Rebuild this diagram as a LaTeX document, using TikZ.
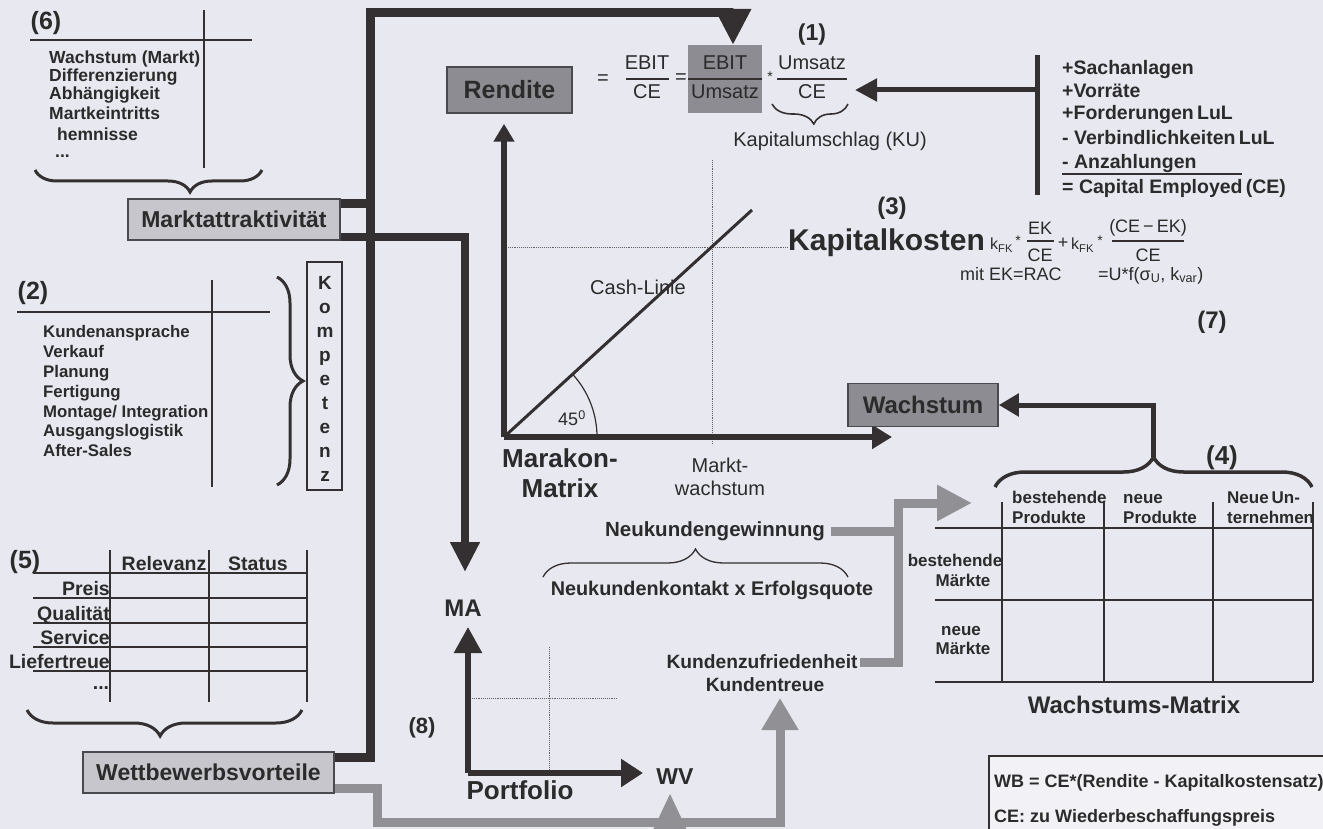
\documentclass[tikz,border=0pt]{standalone}
\usepackage{fontspec}
\setmainfont{Liberation Sans}
\usetikzlibrary{arrows.meta,decorations.pathreplacing,calc}
\definecolor{bgc}{HTML}{E8E9F0}
\definecolor{txtc}{HTML}{2B2B2B}
\definecolor{darkl}{HTML}{342F30}
\definecolor{greyl}{HTML}{909095}
\definecolor{boxd}{HTML}{8C8C92}
\definecolor{boxl}{HTML}{C6C6CC}
\definecolor{boxb}{HTML}{4A4A4E}
\definecolor{wbfill}{HTML}{F2F2F6}
\newcommand{\myfs}[1]{\fontsize{#1}{#1}\selectfont}
\begin{document}
\begin{tikzpicture}[x=1pt,y=-1pt,
  tb/.style={inner sep=0pt,text=txtc,font=\bfseries\myfs{#1}},
  tn/.style={inner sep=0pt,text=txtc,font=\myfs{#1}},
  thickp/.style={draw=darkl,line width=#1,line join=miter},
  conn/.style={draw=darkl,line width=5pt},
  axisl/.style={draw=darkl,line width=5.5pt},
  greyp/.style={draw=greyl,line width=9pt,line join=miter},
  thinl/.style={draw=darkl,line width=1.3pt},
  dotl/.style={draw=darkl!75,line width=0.9pt,densely dotted},
  lightbox/.style={draw=boxb,line width=1.5pt,fill=boxl,inner sep=0pt,text=txtc,font=\bfseries\myfs{23}},
  darkbox/.style={draw=boxb,line width=1.5pt,fill=boxd,inner sep=0pt,text=txtc,font=\bfseries\myfs{25}},
  brc/.style={draw=darkl,line width=#1,decorate},
]
\useasboundingbox (0,0) rectangle (1323,829);
\clip (0,0) rectangle (1323,829);
\fill[bgc] (0,0) rectangle (1323,829);

% ---------- (6) ----------
\node[tb=25] (h6) at (46,23) {(6)};
\draw[thinl] (30,40) -- (252,40);
\draw[thinl] (204,10) -- (204,168);
\node[tb=17.5,anchor=base west] (a1) at (49,64) {Wachstum (Markt)};
\node[tb=17.5,anchor=base west] (a2) at (49,82) {Differenzierung};
\node[tb=17.5,anchor=base west] (a3) at (49,100) {Abhängigkeit};
\node[tb=17.5,anchor=base west] (a4) at (49,120) {Martkeintritts};
\node[tb=17.5,anchor=base west] (a5) at (57,141) {hemnisse};
\node[tb=17.5,anchor=base west] (a6) at (55,158) {...};
\draw[brc=3pt,decoration={brace,amplitude=22pt,aspect=0.317}] (262,170) -- (35,170);
\node[lightbox,minimum width=212pt,minimum height=41pt] (mkt) at (234,219.5) {Marktattraktivität};

% ---------- (2) ----------
\node[tb=25] (h2) at (33,293) {(2)};
\draw[thinl] (17,312) -- (270,312);
\draw[thinl] (212,280) -- (212,487);
\node[tb=16.8,anchor=base west] (b1) at (43,337) {Kundenansprache};
\node[tb=16.8,anchor=base west] (b2) at (43,357) {Verkauf};
\node[tb=16.8,anchor=base west] (b3) at (43,377) {Planung};
\node[tb=16.8,anchor=base west] (b4) at (43,397) {Fertigung};
\node[tb=16.8,anchor=base west] (b5) at (43,417) {Montage/ Integration};
\node[tb=16.8,anchor=base west] (b6) at (43,436) {Ausgangslogistik};
\node[tb=16.8,anchor=base west] (b7) at (43,456) {After-Sales};
\draw[brc=3pt,decoration={brace,amplitude=26pt,aspect=0.5}] (277,277) -- (277,485);
\node[draw=darkl,line width=1.2pt,minimum width=35pt,minimum height=228pt,inner sep=0pt] (kbox) at (324.5,376) {};
\node[inner sep=0pt,text=txtc,font=\bfseries\fontsize{19}{24}\selectfont,align=center] (ktext) at (325,379) {K\\o\\m\\p\\e\\t\\e\\n\\z};

% ---------- (5) ----------
\node[tb=25] (h5) at (25,562) {(5)};
\foreach \yy in {573,598,623,647,671} \draw[thinl] (33,\yy) -- (307,\yy);
\foreach \xx in {110,209,307} \draw[thinl] (\xx,550) -- (\xx,702);
\node[tb=19.5,anchor=base] (rel) at (164,570) {Relevanz};
\node[tb=19.5,anchor=base] (sta) at (258,570) {Status};
\node[tb=19.5,anchor=base east] (r1) at (110,595) {Preis};
\node[tb=19.5,anchor=base east] (r2) at (110,620) {Qualität};
\node[tb=19.5,anchor=base east] (r3) at (110,644) {Service};
\node[tb=19.5,anchor=base east] (r4) at (110,668) {Liefertreue};
\node[tb=19.5,anchor=base] (r5) at (101,689) {...};
\draw[brc=3pt,decoration={brace,amplitude=26pt,aspect=0.516}] (302,710) -- (27,710);
\node[lightbox,minimum width=251pt,minimum height=41pt] (wbv) at (208.5,772.5) {Wettbewerbsvorteile};

% ---------- main dark connectors ----------
\coordinate (topTip) at (733,45);
\coordinate (maTip) at (465,572);
\draw[thickp=9pt,-{Triangle[length=36pt,width=34pt]}] (wbv.east |- 0,757) -- (370,757) -- (370,13) -- (733,13) -- (topTip);
\draw[thickp=9pt] (mkt.east |- 0,204) -- (370,204);
\draw[thickp=8pt,-{Triangle[length=30pt,width=28pt]}] (mkt.east |- 0,237) -- (465,237) -- (maTip);

% ---------- Rendite formula (1) ----------
\node[darkbox,minimum width=125pt,minimum height=46pt] (ren) at (509.5,90) {Rendite};
\node[tn=20] (eq1) at (603,80) {=};
\node[tn=20] (f1n) at (647,63) {EBIT};
\draw[thinl] (626,79) -- (669,79);
\node[tn=20] (f1d) at (647,92) {CE};
\node[tn=20] (eq2) at (681,79) {=};
\node[fill=boxd,minimum width=74pt,minimum height=68pt,inner sep=0pt] (ebu) at (725,79) {};
\node[tn=20] (f2n) at (725,63) {EBIT};
\draw[thinl] (688,79) -- (762,79);
\node[tn=20] (f2d) at (725,92) {Umsatz};
\node[tn=14] (st1) at (770,77) {*};
\node[tn=20] (f3n) at (812,63) {Umsatz};
\draw[thinl] (777,79) -- (847,79);
\node[tn=20] (f3d) at (812,92) {CE};
\node[tb=23] (h1) at (812,35) {(1)};
\draw[brc=1.6pt,decoration={brace,amplitude=20pt,aspect=0.45}] (848,104) -- (772,104);
\node[tn=20] (ku) at (830,141) {Kapitalumschlag (KU)};

% ---------- CE list ----------
\coordinate (ceTop) at (1037,55);
\coordinate (ceBot) at (1037,195);
\coordinate (ceTip) at (855,90);
\draw[conn] (ceTop) -- (ceBot);
\draw[conn,-{Triangle[length=22pt,width=22pt]}] (ceTop |- 0,90) -- (ceTip);
\node[tb=19.5,anchor=base west] (c1) at (1062,75) {+Sachanlagen};
\node[tb=19.5,anchor=base west] (c2) at (1062,98) {+Vorräte};
\node[tb=19.5,anchor=base west] (c3) at (1062,120) {+Forderungen\,LuL};
\node[tb=19.5,anchor=base west] (c4) at (1062,145) {- Verbindlichkeiten\,LuL};
\node[tb=19.5,anchor=base west] (c5) at (1062,169) {- Anzahlungen};
\draw[draw=darkl,line width=2pt] (1062,174) -- (1242,174);
\node[tb=19.5,anchor=base west] (c6) at (1062,194) {= Capital Employed\,(CE)};

% ---------- Kapitalkosten (3) ----------
\node[tb=24] (h3) at (892,208) {(3)};
\node[tb=30,anchor=base west] (kk) at (788,251) {Kapitalkosten};
\node[tn=16,anchor=base west] (kf1) at (990,250) {k\textsubscript{FK}};
\node[tn=14] (st2) at (1018,241) {*};
\node[tn=18] (e1n) at (1040,228) {EK};
\draw[thinl] (1027,241) -- (1054,241);
\node[tn=18] (e1d) at (1040,255) {CE};
\node[tn=18] (pl) at (1063,243) {+};
\node[tn=16,anchor=base west] (kf2) at (1071,250) {k\textsubscript{FK}};
\node[tn=14] (st3) at (1100,241) {*};
\node[tn=18] (e2n) at (1148,228) {(CE\,−\,EK)};
\draw[thinl] (1112,241) -- (1184,241);
\node[tn=18] (e2d) at (1148,255) {CE};
\node[tn=18,anchor=base west] (mit) at (960,280) {mit EK=RAC};
\node[tn=18,anchor=base west] (uf) at (1098,280) {=U*f(σ\textsubscript{U}, k\textsubscript{var})};
\node[tb=24] (h7) at (1212,322) {(7)};

% ---------- Marakon matrix ----------
\coordinate (mo) at (504,437);
\coordinate (mxEnd) at (892,437);
\draw[dotl] (712,160) -- (712,445);
\draw[dotl] (504,247) -- (788,247);
\draw[axisl,shorten >=10pt,-{Triangle[length=18pt,width=20pt]}] (mo) -- (mo |- ren.south);
\draw[axisl,-{Triangle[length=20pt,width=23pt]}] (mo) -- (mxEnd);
\draw[draw=darkl,line width=3pt] (mo) -- (752,210);
\draw[draw=darkl,line width=1.2pt] (597,437) arc[start angle=0,end angle=-42.5,radius=93];
\node[tn=20] (cash) at (638,287) {Cash-Linie};
\node[tn=18] (ang) at (572,418) {45\textsuperscript{0}};
\node[tb=26,anchor=west] (mar1) at (502,458) {Marakon-};
\node[tb=26] (mar2) at (560,488) {Matrix};
\node[tn=20] (mw1) at (720,465) {Markt-};
\node[tn=20] (mw2) at (720,488) {wachstum};

% ---------- Wachstum (7) ----------
\node[darkbox,minimum width=150pt,minimum height=43pt,font=\bfseries\myfs{24}] (wach) at (923,405) {Wachstum};
\coordinate (b4tip) at (1153,457);
\draw[conn,-{Triangle[length=20pt,width=22pt]}] (b4tip) |- (wach.east);

% ---------- Wachstums-Matrix (4) ----------
\node[tb=26] (h4) at (1222,458) {(4)};
\draw[brc=3.5pt,decoration={brace,amplitude=30pt,aspect=0.5}] (995,487) -- (1312,487);
\foreach \yy in {528,600,682} \draw[thinl] (935,\yy) -- (1313,\yy);
\foreach \xx in {1002,1104,1213,1313} \draw[thinl] (\xx,502) -- (\xx,682);
\node[tb=17,anchor=base west] (m1a) at (1012,503) {bestehende};
\node[tb=17,anchor=base west] (m1b) at (1012,523) {Produkte};
\node[tb=17,anchor=base west] (m2a) at (1123,503) {neue};
\node[tb=17,anchor=base west] (m2b) at (1123,523) {Produkte};
\node[tb=17,anchor=base west] (m3a) at (1227,503) {Neue\,Un-};
\node[tb=17,anchor=base west] (m3b) at (1227,523) {ternehmen};
\node[tb=17,anchor=base] (z1a) at (955,566) {bestehende};
\node[tb=17,anchor=base] (z1b) at (963,586) {Märkte};
\node[tb=17,anchor=base] (z2a) at (961,635) {neue};
\node[tb=17,anchor=base] (z2b) at (963,654) {Märkte};
\node[tb=24] (wm) at (1134,705) {Wachstums-Matrix};

% ---------- WB box ----------
\node[draw=darkl,line width=1.5pt,fill=wbfill,anchor=north west,minimum width=350pt,minimum height=90pt,inner sep=0pt] (wb) at (988,755) {};
\node[tb=18,anchor=base west] (wb1) at (994,787) {WB = CE*(Rendite - Kapitalkostensatz)};
\node[tb=18,anchor=base west] (wb2) at (994,822) {CE: zu Wiederbeschaffungspreis};

% ---------- Neukunden ----------
\node[tb=20.5] (nk) at (715,531) {Neukundengewinnung};
\draw[brc=1.3pt,decoration={brace,amplitude=28pt,aspect=0.5}] (543,577) -- (848,577);
\node[tb=19.8] (nkk) at (712,590) {Neukundenkontakt x Erfolgsquote};
\node[tb=19.2] (kz) at (762,662) {Kundenzufriedenheit};
\node[tb=19.2] (kt) at (765,685) {Kundentreue};

% ---------- Portfolio (8) ----------
\node[tb=24] (ma) at (463,608) {MA};
\coordinate (po) at (468,773);
\coordinate (poY) at (468,627);
\coordinate (poX) at (643,773);
\draw[dotl] (549,647) -- (549,773);
\draw[dotl] (468,698) -- (618,698);
\draw[axisl,-{Triangle[length=26pt,width=27pt]}] (po) -- (poY);
\draw[axisl,-{Triangle[length=22pt,width=27pt]}] (po) -- (poX);
\node[tb=23] (wv) at (675,777) {WV};
\node[tb=26] (pf) at (520,790) {Portfolio};
\node[tb=22] (h8) at (422,728) {(8)};

% ---------- grey connectors ----------
\coordinate (gTip) at (972,503);
\coordinate (ktTip) at (780,698);
\coordinate (wvTip) at (670,793);
\coordinate (wvBase) at (670,845);
\draw[greyp] ([xshift=6pt]nk.east) -- (nk.east -| 898,0);
\draw[greyp,-{Triangle[length=35pt,width=34pt]}] ([xshift=2pt]kz.east) -| (898,503) -- (gTip);
\draw[greyp,-{Triangle[length=32pt,width=35pt]}] (wbv.east |- 0,788) -- (377,788) -- (377,822) -- (780,822) -- (ktTip);
\draw[greyp,-{Triangle[length=40pt,width=34pt]}] (wvBase) -- (wvTip);
\end{tikzpicture}
\end{document}
